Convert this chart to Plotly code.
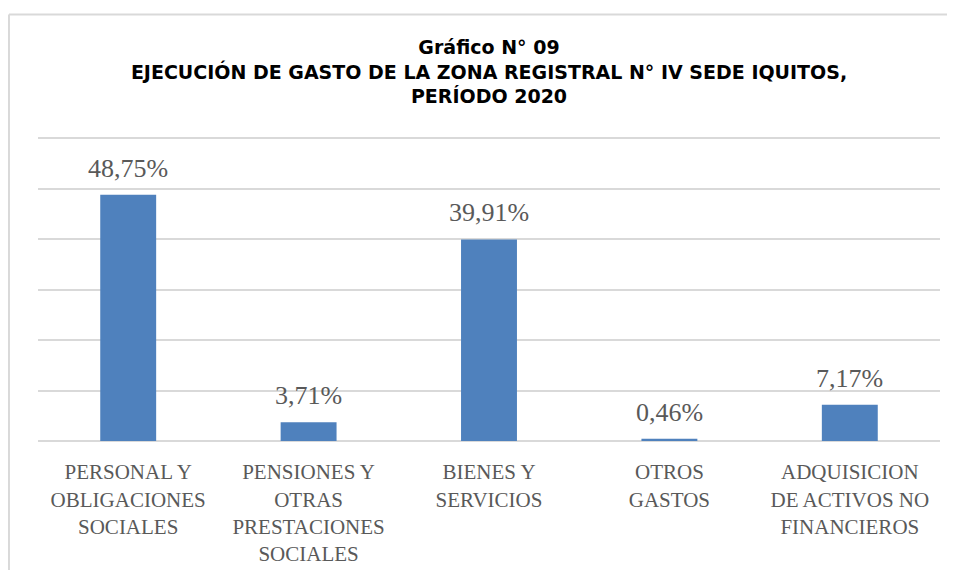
import plotly.graph_objects as go

# Datos del gráfico
categorias = [
    "PERSONAL Y<br>OBLIGACIONES<br>SOCIALES",
    "PENSIONES Y<br>OTRAS<br>PRESTACIONES<br>SOCIALES",
    "BIENES Y<br>SERVICIOS",
    "OTROS<br>GASTOS",
    "ADQUISICION<br>DE ACTIVOS NO<br>FINANCIEROS",
]
porcentajes = [48.75, 3.71, 39.91, 0.46, 7.17]
etiquetas = ["48,75%", "3,71%", "39,91%", "0,46%", "7,17%"]

titulo = ("<b>Gráfico N° 09</b><br>"
          "<b>EJECUCIÓN DE GASTO DE LA ZONA REGISTRAL N° IV SEDE IQUITOS,</b><br>"
          "<b>PERÍODO 2020</b>")

fig = go.Figure()
fig.add_trace(go.Bar(
    x=categorias, y=porcentajes,
    marker=dict(color='#4F81BD', line=dict(width=0)),
    hoverinfo='skip',
))

# etiquetas de datos sobre cada barra
for c, v, t in zip(categorias, porcentajes, etiquetas):
    fig.add_annotation(x=c, y=v, text=t, showarrow=False,
                       yanchor='bottom', yshift=10,
                       font=dict(family='Liberation Serif', size=26, color='#595959'))

# borde del área del gráfico (solo izquierda y arriba quedan visibles)
borde = dict(color='#D9D9D9', width=2)
fig.add_shape(type='line', xref='paper', yref='paper',
              x0=-0.0322, x1=-0.0322, y0=-0.5, y1=1.385, line=borde, layer='below')
fig.add_shape(type='line', xref='paper', yref='paper',
              x0=-0.0322, x1=1.01, y0=1.385, y1=1.385, line=borde, layer='below')

fig.update_layout(
    width=939, height=562,
    margin=dict(l=30, r=7, t=125, b=129, autoexpand=False),
    paper_bgcolor='white', plot_bgcolor='white',
    showlegend=False,
    bargap=0.69,
    title=dict(text=titulo, x=0.5, xanchor='center', xref='paper',
               y=0.918, yanchor='top', yref='container',
               font=dict(family='DejaVu Sans', size=19, color='#000000')),
    xaxis=dict(showgrid=False, showline=False, ticks='outside', ticklen=12,
               tickcolor='rgba(0,0,0,0)', automargin=False,
               tickfont=dict(family='Liberation Serif', size=21, color='#595959'),
               tickangle=0),
    yaxis=dict(range=[0, 61], tickvals=[0, 10, 20, 30, 40, 50, 60],
               showgrid=True, gridcolor='#D9D9D9',
               gridwidth=2, showticklabels=False, zeroline=True, automargin=False,
               zerolinecolor='#D9D9D9', zerolinewidth=2, fixedrange=True),
)

fig.write_html("out.html")
